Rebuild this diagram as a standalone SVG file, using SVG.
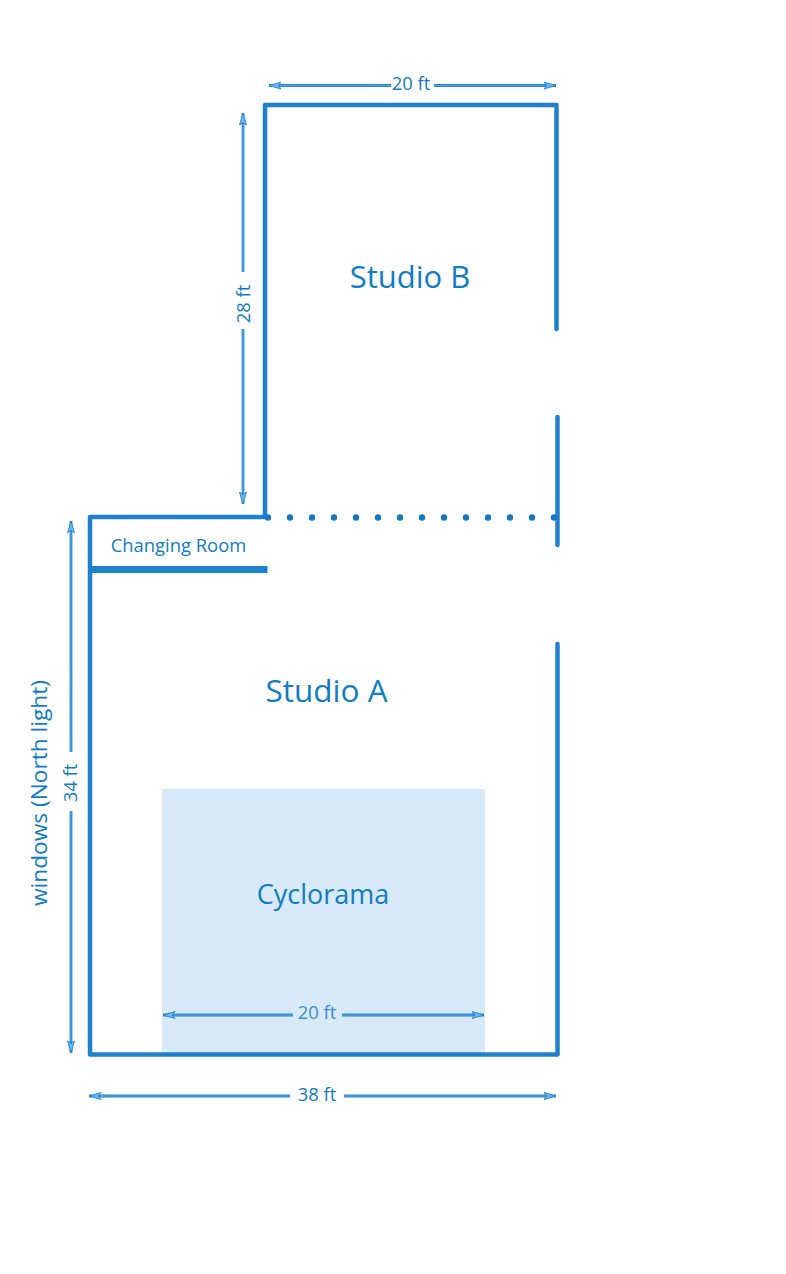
<svg xmlns="http://www.w3.org/2000/svg" width="786" height="1274" viewBox="0 0 786 1274">
<style>
.wall{fill:none;stroke:#1f80cc;stroke-width:4.500;stroke-linecap:round;stroke-linejoin:round}
.dim{fill:none;stroke:#2587d2;stroke-width:2.800;marker-start:url(#hs);marker-end:url(#he)}
.core{fill:none;stroke:#6cb6ec;stroke-width:0.700}
text{font-family:"Open Sans","Noto Sans",sans-serif;fill:#0f7cc4;text-anchor:middle}
.big{font-size:31px}
.mid{font-size:27px}
.sm{font-size:18.400px}
</style>
<defs>
<marker id="he" markerUnits="userSpaceOnUse" markerWidth="14" markerHeight="10" refX="12.500" refY="5" orient="auto"><path d="M0.500 1.500L12.500 5L0.500 8.500L3 5Z" fill="#6cb6ec" stroke="#2587d2" stroke-width="0.900"/></marker>
<marker id="hs" markerUnits="userSpaceOnUse" markerWidth="14" markerHeight="10" refX="1" refY="5" orient="auto"><path d="M13 1.500L1 5L13 8.500L10.500 5Z" fill="#6cb6ec" stroke="#2587d2" stroke-width="0.900"/></marker>
</defs>
<rect width="786" height="1274" fill="#ffffff"/>
<g id="cyclorama">
<rect x="162" y="789" width="323" height="265" fill="#d8e9f9"/>
<text class="mid" x="323" y="904">Cyclorama</text>
</g>
<g id="walls">
<path class="wall" d="M556.500 329V105H265V517H90V1054.500H557.500V644"/>
<path class="wall" d="M557.500 417V545"/>
<path d="M90 569.500H267.500" fill="none" stroke="#1f80cc" stroke-width="7"/>
<path d="M268 517.500H558" fill="none" stroke="#1478c2" stroke-width="6.400" stroke-linecap="round" stroke-dasharray="0 22"/>
</g>
<g id="studio-b"><text class="big" x="410" y="288">Studio B</text></g>
<g id="studio-a"><text class="big" x="326.500" y="702" style="font-size:31.500px">Studio A</text></g>
<g id="changing-room"><text class="sm" x="178.500" y="551.500">Changing Room</text></g>
<g id="connectors">
<path class="dim" d="M269 85.500H391" style="marker-end:none"/>
<path class="dim" d="M434 85.500H556" style="marker-start:none"/>
<path class="dim" d="M243 113V272" style="marker-end:none"/>
<path class="dim" d="M243 329V504" style="marker-start:none"/>
<path class="dim" d="M71 521V752" style="marker-end:none"/>
<path class="dim" d="M71 811V1053" style="marker-start:none"/>
<path class="dim" d="M163 1015H293" style="marker-end:none"/>
<path class="dim" d="M342 1015H484" style="marker-start:none"/>
<path class="dim" d="M89 1096H290" style="marker-end:none"/>
<path class="dim" d="M344 1096H556" style="marker-start:none"/>
<path class="core" d="M280 85.500H391M434 85.500H545M243 124V272M243 329V493M71 532V752M71 811V1042M174 1015H293M342 1015H473M100 1096H290M344 1096H545"/>
</g>
<g id="labels">
<text class="sm" x="411" y="90">20 ft</text>
<text class="sm" transform="translate(249.500 304) rotate(-90)">28 ft</text>
<text class="sm" transform="translate(77 783) rotate(-90)">34 ft</text>
<text class="sm" x="317" y="1019" style="fill:#3a8fd0">20 ft</text>
<text class="sm" x="317" y="1101">38 ft</text>
<text transform="translate(47 793) rotate(-90)" style="font-size:22.700px">windows (North light)</text>
</g>
</svg>
